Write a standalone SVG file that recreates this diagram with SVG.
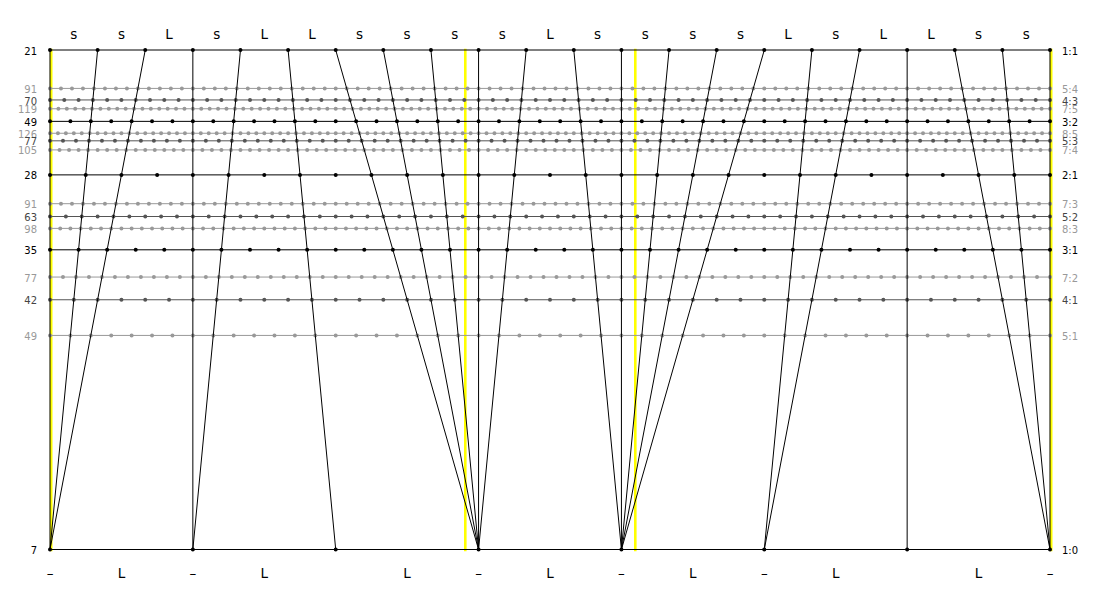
<svg xmlns="http://www.w3.org/2000/svg" width="1100" height="600" viewBox="0 0 1100 600">
<style>
text{font-family:"DejaVu Sans","Liberation Sans",sans-serif}
.lbl{font-size:10px}
.l{text-anchor:end}
.r{text-anchor:start}
.step{font-size:13.5px;text-anchor:middle;fill:#000}
.yel{stroke:#ffff00;stroke-width:2.6;stroke-linecap:square}
.ln{fill:none;stroke-width:1}
.dt{fill:none;stroke-width:4;stroke-linecap:round}
.c0 .ln,.c0 .dt{stroke:#000}
.c0 text{fill:#000}
.c1 .ln,.c1 .dt{stroke:#555}
.c1 text{fill:#444}
.c2 .ln,.c2 .dt{stroke:#999}
.c2 text{fill:#999}
.con line{stroke:#000;stroke-width:1}
</style>
<rect width="1100" height="600" fill="#fff"/>
<g id="equave-marks">
<line class="yel" x1="51.2" y1="50" x2="51.2" y2="550"/>
<line class="yel" x1="465.3" y1="50" x2="465.3" y2="550"/>
<line class="yel" x1="635.3" y1="50" x2="635.3" y2="550"/>
<line class="yel" x1="1051.2" y1="50" x2="1051.2" y2="550"/>
</g>
<g id="r5-4" class="c2"><path class="ln" d="M50 88.42H1050"/><path class="dt" d="M50 88.42H1050.5" stroke-dasharray="0 10.989011"/><text class="lbl l" x="37" y="92.9">91</text><text class="lbl r" x="1062" y="92.9">5:4</text></g>
<g id="r7-5" class="c2"><path class="ln" d="M50 108.76H1050"/><path class="dt" d="M50 108.76H1050.5" stroke-dasharray="0 8.403361"/><text class="lbl l" x="37" y="113.3">119</text><text class="lbl r" x="1062" y="113.3">7:5</text></g>
<g id="r8-5" class="c2"><path class="ln" d="M50 133.25H1050"/><path class="dt" d="M50 133.25H1050.5" stroke-dasharray="0 7.936508"/><text class="lbl l" x="37" y="137.8">126</text><text class="lbl r" x="1062" y="137.8">8:5</text></g>
<g id="r7-4" class="c2"><path class="ln" d="M50 149.9H1050"/><path class="dt" d="M50 149.9H1050.5" stroke-dasharray="0 9.523810"/><text class="lbl l" x="37" y="154.4">105</text><text class="lbl r" x="1062" y="154.4">7:4</text></g>
<g id="r7-3" class="c2"><path class="ln" d="M50 203.69H1050"/><path class="dt" d="M50 203.69H1050.5" stroke-dasharray="0 10.989011"/><text class="lbl l" x="37" y="208.2">91</text><text class="lbl r" x="1062" y="208.2">7:3</text></g>
<g id="r8-3" class="c2"><path class="ln" d="M50 228.39H1050"/><path class="dt" d="M50 228.39H1050.5" stroke-dasharray="0 10.204082"/><text class="lbl l" x="37" y="232.9">98</text><text class="lbl r" x="1062" y="232.9">8:3</text></g>
<g id="r7-2" class="c2"><path class="ln" d="M50 277.05H1050"/><path class="dt" d="M50 277.05H1050.5" stroke-dasharray="0 12.987013"/><text class="lbl l" x="37" y="281.6">77</text><text class="lbl r" x="1062" y="281.6">7:2</text></g>
<g id="r5-1" class="c2"><path class="ln" d="M50 335.43H1050"/><path class="dt" d="M50 335.43H1050.5" stroke-dasharray="0 20.408163"/><text class="lbl l" x="37" y="339.9">49</text><text class="lbl r" x="1062" y="339.9">5:1</text></g>
<g id="r4-3" class="c1"><path class="ln" d="M50 99.95H1050"/><path class="dt" d="M50 99.95H1050.5" stroke-dasharray="0 14.285714"/><text class="lbl l" x="37" y="104.5">70</text><text class="lbl r" x="1062" y="104.5">4:3</text></g>
<g id="r5-3" class="c1"><path class="ln" d="M50 140.82H1050"/><path class="dt" d="M50 140.82H1050.5" stroke-dasharray="0 12.987013"/><text class="lbl l" x="37" y="145.3">77</text><text class="lbl r" x="1062" y="145.3">5:3</text></g>
<g id="r5-2" class="c1"><path class="ln" d="M50 216.5H1050"/><path class="dt" d="M50 216.5H1050.5" stroke-dasharray="0 15.873016"/><text class="lbl l" x="37" y="221">63</text><text class="lbl r" x="1062" y="221">5:2</text></g>
<g id="r4-1" class="c1"><path class="ln" d="M50 299.75H1050"/><path class="dt" d="M50 299.75H1050.5" stroke-dasharray="0 23.809524"/><text class="lbl l" x="37" y="304.3">42</text><text class="lbl r" x="1062" y="304.3">4:1</text></g>
<g id="r3-2" class="c0"><path class="ln" d="M50 121.36H1050"/><path class="dt" d="M50 121.36H1050.5" stroke-dasharray="0 20.408163"/><text class="lbl l" x="37" y="125.9">49</text><text class="lbl r" x="1062" y="125.9">3:2</text></g>
<g id="r2-1" class="c0"><path class="ln" d="M50 174.88H1050"/><path class="dt" d="M50 174.88H1050.5" stroke-dasharray="0 35.714286"/><text class="lbl l" x="37" y="179.4">28</text><text class="lbl r" x="1062" y="179.4">2:1</text></g>
<g id="r3-1" class="c0"><path class="ln" d="M50 249.8H1050"/><path class="dt" d="M50 249.8H1050.5" stroke-dasharray="0 28.571429"/><text class="lbl l" x="37" y="254.3">35</text><text class="lbl r" x="1062" y="254.3">3:1</text></g>
<g id="connectors" class="con">
<line x1="50" y1="50" x2="50" y2="549.5"/>
<line x1="97.619" y1="50" x2="50" y2="549.5"/>
<line x1="145.238" y1="50" x2="50" y2="549.5"/>
<line x1="192.857" y1="50" x2="192.857" y2="549.5"/>
<line x1="240.476" y1="50" x2="192.857" y2="549.5"/>
<line x1="288.095" y1="50" x2="335.714" y2="549.5"/>
<line x1="335.714" y1="50" x2="478.571" y2="549.5"/>
<line x1="383.333" y1="50" x2="478.571" y2="549.5"/>
<line x1="430.952" y1="50" x2="478.571" y2="549.5"/>
<line x1="478.571" y1="50" x2="478.571" y2="549.5"/>
<line x1="526.190" y1="50" x2="478.571" y2="549.5"/>
<line x1="573.810" y1="50" x2="621.429" y2="549.5"/>
<line x1="621.429" y1="50" x2="621.429" y2="549.5"/>
<line x1="669.048" y1="50" x2="621.429" y2="549.5"/>
<line x1="716.667" y1="50" x2="621.429" y2="549.5"/>
<line x1="764.286" y1="50" x2="621.429" y2="549.5"/>
<line x1="811.905" y1="50" x2="764.286" y2="549.5"/>
<line x1="859.524" y1="50" x2="764.286" y2="549.5"/>
<line x1="907.143" y1="50" x2="907.143" y2="549.5"/>
<line x1="954.762" y1="50" x2="1050" y2="549.5"/>
<line x1="1002.381" y1="50" x2="1050" y2="549.5"/>
<line x1="1050" y1="50" x2="1050" y2="549.5"/>
</g>
<g id="r1-1" class="c0"><path class="ln" d="M50 50H1050"/><path class="dt" d="M50 50H1050.5" stroke-dasharray="0 47.619048"/><text class="lbl l" x="37" y="54.5">21</text><text class="lbl r" x="1062" y="54.5">1:1</text></g>
<g id="r1-0" class="c0"><path class="ln" d="M50 549.5H1050"/><path class="dt" d="M50 549.5H1050.5" stroke-dasharray="0 142.857143"/><text class="lbl l" x="37" y="554">7</text><text class="lbl r" x="1062" y="554">1:0</text></g>
<g id="top-steps">
<text class="step" x="73.81" y="38.5">s</text>
<text class="step" x="121.43" y="38.5">s</text>
<text class="step" x="169.05" y="38.5">L</text>
<text class="step" x="216.67" y="38.5">s</text>
<text class="step" x="264.29" y="38.5">L</text>
<text class="step" x="311.90" y="38.5">L</text>
<text class="step" x="359.52" y="38.5">s</text>
<text class="step" x="407.14" y="38.5">s</text>
<text class="step" x="454.76" y="38.5">s</text>
<text class="step" x="502.38" y="38.5">s</text>
<text class="step" x="550" y="38.5">L</text>
<text class="step" x="597.62" y="38.5">s</text>
<text class="step" x="645.24" y="38.5">s</text>
<text class="step" x="692.86" y="38.5">s</text>
<text class="step" x="740.48" y="38.5">s</text>
<text class="step" x="788.10" y="38.5">L</text>
<text class="step" x="835.71" y="38.5">s</text>
<text class="step" x="883.33" y="38.5">L</text>
<text class="step" x="930.95" y="38.5">L</text>
<text class="step" x="978.57" y="38.5">s</text>
<text class="step" x="1026.19" y="38.5">s</text>
</g>
<g id="bottom-steps">
<text class="step" x="50" y="577.5">–</text>
<text class="step" x="121.43" y="577.5">L</text>
<text class="step" x="192.86" y="577.5">–</text>
<text class="step" x="264.29" y="577.5">L</text>
<text class="step" x="407.14" y="577.5">L</text>
<text class="step" x="478.57" y="577.5">–</text>
<text class="step" x="550" y="577.5">L</text>
<text class="step" x="621.43" y="577.5">–</text>
<text class="step" x="692.86" y="577.5">L</text>
<text class="step" x="764.29" y="577.5">–</text>
<text class="step" x="835.71" y="577.5">L</text>
<text class="step" x="978.57" y="577.5">L</text>
<text class="step" x="1050" y="577.5">–</text>
</g>
</svg>
